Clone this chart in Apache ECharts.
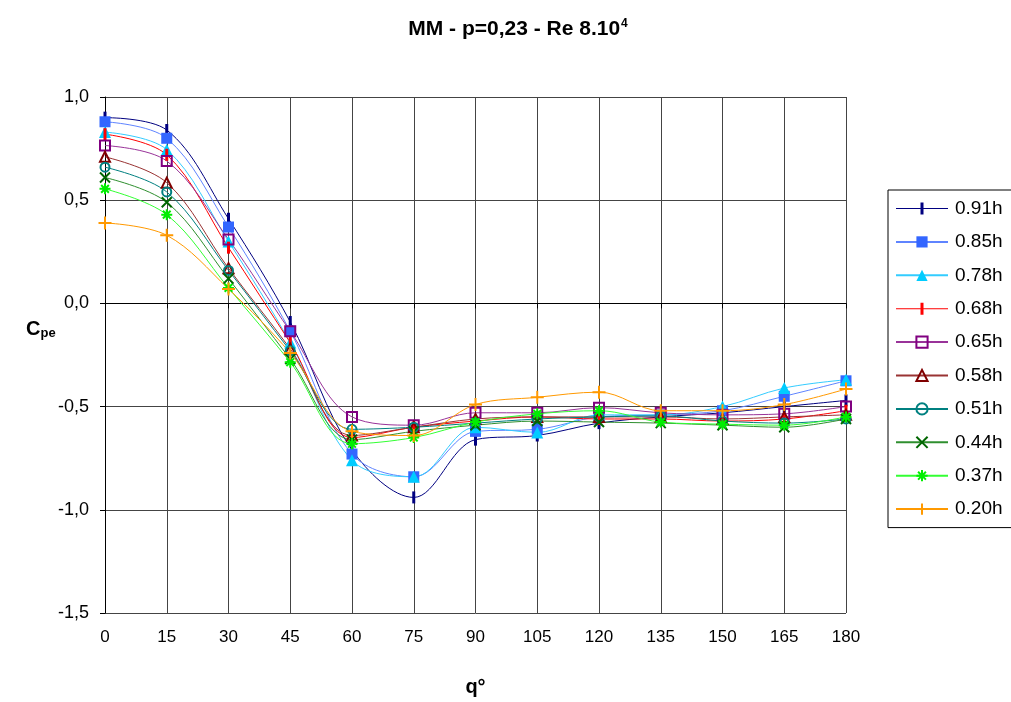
<!DOCTYPE html>
<html>
<head>
<meta charset="utf-8">
<script src="https://cdn.jsdelivr.net/npm/echarts@6/dist/echarts.min.js"></script>
<style>
  html, body { margin: 0; padding: 0; background: #fff; }
  #chart { width: 1011px; height: 702px; }
</style>
</head>
<body>
<div id="chart"></div>
<script>
// Angle around the cylinder (degrees)
const angles = ['0', '15', '30', '45', '60', '75', '90', '105', '120', '135', '150', '165', '180'];
const yTicks = [-1.5, -1.0, -0.5, 0.0, 0.5, 1.0];

// External pressure coefficient Cpe at each measuring height
const h091 = [0.90, 0.84, 0.41, -0.09, -0.71, -0.94, -0.66, -0.64, -0.58, -0.55, -0.53, -0.50, -0.47];
const h085 = [0.88, 0.80, 0.37, -0.135, -0.73, -0.84, -0.62, -0.61, -0.55, -0.54, -0.52, -0.45, -0.375];
const h078 = [0.83, 0.745, 0.30, -0.19, -0.76, -0.84, -0.60, -0.625, -0.54, -0.54, -0.50, -0.41, -0.37];
const h068 = [0.82, 0.72, 0.27, -0.19, -0.65, -0.60, -0.57, -0.55, -0.56, -0.56, -0.57, -0.56, -0.52];
const h065 = [0.765, 0.69, 0.31, -0.135, -0.55, -0.59, -0.53, -0.53, -0.505, -0.53, -0.54, -0.535, -0.50];
const h058 = [0.71, 0.585, 0.17, -0.22, -0.64, -0.60, -0.56, -0.55, -0.55, -0.55, -0.56, -0.55, -0.54];
const h051 = [0.66, 0.54, 0.16, -0.23, -0.61, -0.60, -0.58, -0.56, -0.55, -0.545, -0.57, -0.58, -0.56];
const h044 = [0.61, 0.49, 0.12, -0.27, -0.66, -0.62, -0.59, -0.57, -0.575, -0.58, -0.59, -0.60, -0.56];
const h037 = [0.555, 0.43, 0.075, -0.285, -0.68, -0.65, -0.575, -0.535, -0.52, -0.575, -0.585, -0.59, -0.55];
const h020 = [0.39, 0.33, 0.07, -0.24, -0.62, -0.64, -0.49, -0.455, -0.43, -0.52, -0.52, -0.49, -0.415];

const seriesNames = ['0.91h', '0.85h', '0.78h', '0.68h', '0.65h', '0.58h', '0.51h', '0.44h', '0.37h', '0.20h'];
const seriesData = [h091, h085, h078, h068, h065, h058, h051, h044, h037, h020];

const FONT = 'Liberation Sans, Arial, sans-serif';
const SQUARE = 'path://M0,0H10V10H0Z';
const TRI = 'path://M5,0L10,9H0Z';
const CROSS = 'path://M0,0L10,10M10,0L0,10';
const STAR = 'path://M5,0L5,10M0,5L10,5M1.5,1.5L8.5,8.5M8.5,1.5L1.5,8.5';
const PLUS = 'path://M5,0L5,10M0,5L10,5';
const NONE = 'rgba(0,0,0,0)';
// legend key for the dash markers: a thin line crossed by a short vertical bar
const DASH_KEY = 'path://M0,6.5H24.5V1H27.5V6.5H52V7.5H27.5V13H24.5V7.5H0Z';

const styles = [
  { line: '#000080', mark: '#000080', symbol: 'rect', size: [3, 12], fill: '#000080', bw: 0, key: DASH_KEY },
  { line: '#5f84ff', mark: '#3366ff', symbol: 'rect', size: 11, fill: '#3366ff', bw: 0 },
  { line: '#33ccff', mark: '#00ccff', symbol: 'triangle', size: 12, fill: '#00ccff', bw: 0 },
  { line: '#ff0000', mark: '#ff0000', symbol: 'rect', size: [3, 12], fill: '#ff0000', bw: 0, key: DASH_KEY },
  { line: '#993399', mark: '#800080', symbol: SQUARE, size: 10, fill: NONE, bw: 2 },
  { line: '#993333', mark: '#800000', symbol: TRI, size: 10, fill: NONE, bw: 2 },
  { line: '#008080', mark: '#008080', symbol: 'circle', size: 9, fill: NONE, bw: 2 },
  { line: '#2f8f2f', mark: '#006600', symbol: CROSS, size: 10, fill: '#006600', bw: 2 },
  { line: '#33ff33', mark: '#00ee00', symbol: STAR, size: 11, fill: '#00ee00', bw: 2 },
  { line: '#ff9900', mark: '#ff9900', symbol: PLUS, size: 13, fill: '#ff9900', bw: 2 }
];

const series = seriesNames.map((name, i) => ({
  name: name,
  type: 'line',
  data: seriesData[i],
  smooth: 0.35,
  symbol: styles[i].symbol,
  symbolSize: styles[i].size,
  showAllSymbol: true,
  lineStyle: { color: styles[i].line, width: 1 },
  itemStyle: {
    color: styles[i].fill,
    borderColor: styles[i].mark,
    borderWidth: styles[i].bw
  },
  emphasis: { disabled: true }
}));

const legendData = seriesNames.map((name, i) =>
  styles[i].key ? { name: name, icon: styles[i].key } : { name: name });

const chart = echarts.init(document.getElementById('chart'), null, { renderer: 'canvas' });
chart.setOption({
  animation: false,
  backgroundColor: '#fff',
  title: {
    text: '{a|MM - p=0,23 - Re 8.10}{s|4}',
    left: 513,
    top: 13,
    textAlign: 'center',
    textStyle: {
      rich: {
        a: { fontFamily: FONT, fontWeight: 'bold', fontSize: 21, color: '#000' },
        s: { fontFamily: FONT, fontWeight: 'bold', fontSize: 12, color: '#000', verticalAlign: 'top', padding: [0, 0, 10, 1] }
      }
    }
  },
  graphic: [{
    type: 'text',
    left: 26,
    top: 319,
    style: {
      text: '{c|C}{p|pe}',
      rich: {
        c: { fontFamily: FONT, fontWeight: 'bold', fontSize: 20, color: '#000' },
        p: { fontFamily: FONT, fontWeight: 'bold', fontSize: 13, color: '#000', padding: [9, 0, 0, 0] }
      }
    }
  }],
  legend: {
    orient: 'vertical',
    left: 888,
    top: 190,
    padding: [9, 12, 9, 7],
    itemWidth: 52,
    itemHeight: 14,
    itemGap: 14.4,
    borderColor: '#000',
    borderWidth: 1,
    data: legendData,
    textStyle: { fontFamily: FONT, fontSize: 19, color: '#000', padding: [0, 0, 0, 2] }
  },
  grid: { left: 105, right: 165, top: 97, bottom: 88, containLabel: false },
  xAxis: {
    type: 'category',
    data: angles,
    boundaryGap: false,
    name: 'q°',
    nameLocation: 'middle',
    nameGap: 64,
    nameTextStyle: { fontFamily: FONT, fontWeight: 'bold', fontSize: 20, color: '#000' },
    axisLine: { lineStyle: { color: '#000', width: 1 } },
    axisTick: { show: true, alignWithLabel: true, length: 5, lineStyle: { color: '#000' } },
    axisLabel: { fontFamily: FONT, fontSize: 17, color: '#000', margin: 16 },
    splitLine: { show: true, lineStyle: { color: '#444', width: 1 } }
  },
  yAxis: {
    type: 'value',
    min: yTicks[0],
    max: yTicks[yTicks.length - 1],
    interval: 0.5,
    axisLine: { show: true, lineStyle: { color: '#000', width: 1 } },
    axisTick: { show: true, length: 5, lineStyle: { color: '#000' } },
    axisLabel: {
      fontFamily: FONT,
      fontSize: 18,
      color: '#000',
      margin: 16,
      formatter: v => v.toFixed(1).replace('.', ',')
    },
    splitLine: { show: true, lineStyle: { color: '#444', width: 1 } }
  },
  series: series
});
</script>
</body>
</html>
